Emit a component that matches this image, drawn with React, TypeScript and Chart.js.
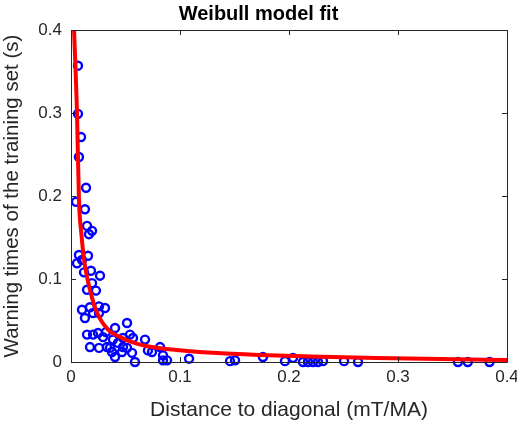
import React, { useEffect, useRef } from "react";
import { Chart, registerables } from "chart.js";

Chart.register(...registerables);

const sampleX = [
  0.0064, 0.0064, 0.0092, 0.0073, 0.0138, 0.0046, 0.0128, 0.0147, 0.0193, 0.0165,
  0.0073, 0.0156, 0.0055, 0.0101, 0.0119, 0.0183, 0.0266, 0.0193, 0.0147, 0.0229,
  0.0101, 0.0174, 0.0128, 0.0202, 0.0257, 0.0312, 0.0257, 0.0147, 0.0202, 0.0248,
  0.0294, 0.0321, 0.0174, 0.0257, 0.0358, 0.0404, 0.0385, 0.0431, 0.0514, 0.0477,
  0.0541, 0.0514, 0.056, 0.0587, 0.0404, 0.0376, 0.0569, 0.0679, 0.0706, 0.0743,
  0.0817, 0.0844, 0.0881, 0.0468, 0.0477, 0.033, 0.0844, 0.1083, 0.1459, 0.1505,
  0.1761, 0.1963, 0.2037, 0.2128, 0.2174, 0.222, 0.2266, 0.2312, 0.2505, 0.2633,
  0.355, 0.364, 0.384,
];
const sampleY = [
  0.357, 0.299, 0.271, 0.247, 0.21, 0.193, 0.184, 0.164, 0.158, 0.154,
  0.129, 0.128, 0.119, 0.123, 0.108, 0.11, 0.104, 0.095, 0.087, 0.086,
  0.063, 0.066, 0.053, 0.059, 0.067, 0.065, 0.059, 0.033, 0.033, 0.035,
  0.03, 0.036, 0.018, 0.017, 0.017, 0.041, 0.027, 0.023, 0.047, 0.029,
  0.033, 0.017, 0.011, 0.0, 0.006, 0.012, 0.029, 0.027, 0.014, 0.012,
  0.018, 0.002, 0.002, 0.012, 0.018, 0.018, 0.008, 0.004, 0.001, 0.002,
  0.006, 0.001, 0.005, 0.0, 0.0, 0.0, 0.0, 0.001, 0.001, 0.0,
  0.0, 0.0, 0.0,
];

const fitX = [
  0.0028, 0.0055, 0.0073, 0.0095, 0.012, 0.0174, 0.024, 0.034, 0.045, 0.056,
  0.07, 0.097, 0.13, 0.173, 0.22, 0.28, 0.34, 0.4,
];
const fitY = [
  0.4, 0.3, 0.195, 0.155, 0.123, 0.087, 0.059, 0.039, 0.03, 0.024,
  0.019, 0.0145, 0.011, 0.0084, 0.0066, 0.0048, 0.0035, 0.0025,
];

const xTicks = [0, 0.1, 0.2, 0.3, 0.4];
const yTicks = [0, 0.1, 0.2, 0.3, 0.4];

const FONT = "'Liberation Sans', Arial, Helvetica, sans-serif";
const AXIS_COLOR = "#262626";

const boxPlugin = {
  id: "matlabBox",
  afterDatasetsDraw(chart: any) {
    const { ctx, chartArea } = chart;
    const { left, right, top, bottom } = chartArea;
    const xs = chart.scales.x;
    const ys = chart.scales.y;
    ctx.save();
    ctx.strokeStyle = AXIS_COLOR;
    ctx.lineWidth = 1;
    ctx.beginPath();
    ctx.rect(Math.round(left) + 0.5, Math.round(top) + 0.5, Math.round(right - left), Math.round(bottom - top));
    ctx.stroke();
    const tl = 5;
    ctx.beginPath();
    xTicks.forEach((v) => {
      const px = Math.round(xs.getPixelForValue(v)) + 0.5;
      ctx.moveTo(px, bottom);
      ctx.lineTo(px, bottom - tl);
      ctx.moveTo(px, top);
      ctx.lineTo(px, top + tl);
    });
    yTicks.forEach((v) => {
      const py = Math.round(ys.getPixelForValue(v)) + 0.5;
      ctx.moveTo(left, py);
      ctx.lineTo(left + tl, py);
      ctx.moveTo(right, py);
      ctx.lineTo(right - tl, py);
    });
    ctx.stroke();
    ctx.restore();
  },
};

export default function App() {
  const ref = useRef<HTMLCanvasElement>(null);
  useEffect(() => {
    if (!ref.current) return;
    const chart = new Chart(ref.current, {
      type: "scatter",
      data: {
        datasets: [
          {
            label: "Training set",
            data: sampleX.map((x, i) => ({ x, y: sampleY[i] })),
            pointStyle: "circle",
            pointRadius: 4,
            pointBorderWidth: 2.4,
            pointBorderColor: "#0000FF",
            pointBackgroundColor: "rgba(0,0,0,0)",
            showLine: false,
            clip: false as any,
            order: 2,
          },
          {
            label: "Weibull fit",
            data: fitX.map((x, i) => ({ x, y: fitY[i] })),
            showLine: true,
            borderColor: "#FF0000",
            borderWidth: 4,
            pointRadius: 0,
            cubicInterpolationMode: "monotone",
            order: 1,
          } as any,
        ],
      },
      options: {
        animation: false,
        responsive: false,
        layout: { padding: { left: 0, right: 0, top: 0, bottom: 0 } },
        plugins: {
          legend: { display: false },
          tooltip: { enabled: false },
          title: {
            display: true,
            text: "Weibull model fit",
            color: "#000000",
            font: { family: FONT, size: 20, weight: "bold" },
            padding: { top: 2, bottom: 4 },
          },
        },
        scales: {
          x: {
            type: "linear",
            min: 0,
            max: 0.4,
            grid: { display: false, drawTicks: false },
            border: { display: false },
            afterBuildTicks: (s: any) => {
              s.ticks = xTicks.map((v) => ({ value: v }));
            },
            afterFit: (s: any) => {
              s.height = 61;
              s.paddingRight = 10;
            },
            ticks: {
              color: AXIS_COLOR,
              font: { family: FONT, size: 17 },
              padding: 5,
              maxRotation: 0,
              callback: (v: any) => String(v),
            },
            title: {
              display: true,
              text: "Distance to diagonal (mT/MA)",
              color: AXIS_COLOR,
              font: { family: FONT, size: 21 },
              padding: { top: 0, bottom: 0 },
            },
          },
          y: {
            type: "linear",
            min: 0,
            max: 0.4,
            grid: { display: false, drawTicks: false },
            border: { display: false },
            afterBuildTicks: (s: any) => {
              s.ticks = yTicks.map((v) => ({ value: v }));
            },
            afterFit: (s: any) => {
              s.width = 71;
            },
            ticks: {
              color: AXIS_COLOR,
              font: { family: FONT, size: 17 },
              padding: 9,
              callback: (v: any) => String(v),
            },
            title: {
              display: true,
              text: "Warning times of the training set (s)",
              color: AXIS_COLOR,
              font: { family: FONT, size: 20.5 },
              padding: { top: 0, bottom: 0 },
            },
          },
        },
      },
      plugins: [boxPlugin],
    });
    return () => chart.destroy();
  }, []);
  return (
    <div style={{ position: "fixed", left: 0, top: 0, width: 517, height: 423, background: "#ffffff" }}>
      <canvas ref={ref} width={517} height={423} style={{ width: 517, height: 423 }} />
    </div>
  );
}
